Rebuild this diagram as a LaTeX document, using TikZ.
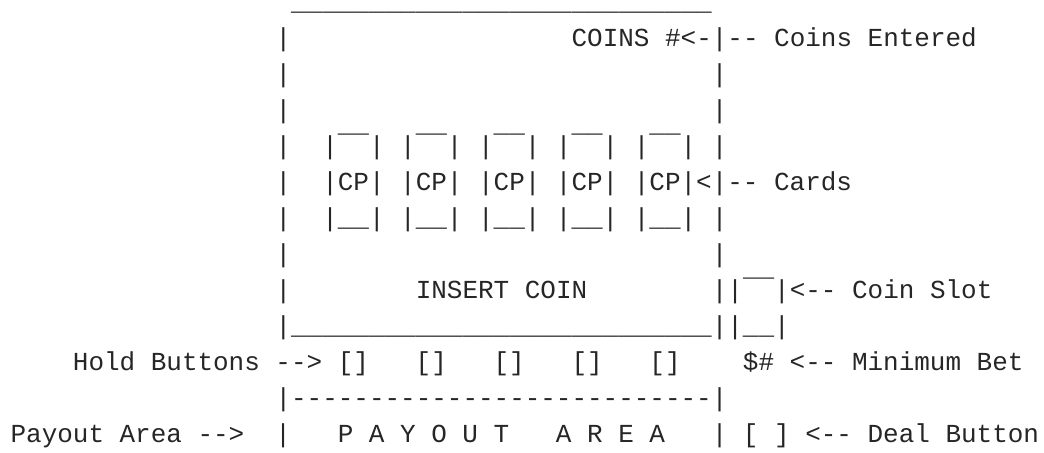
\documentclass[tikz,border=0pt]{standalone}
\usepackage{fontspec}
\setmonofont{Liberation Mono}
\frenchspacing

% one blank column of the grid, and a run of equal characters
\newcommand{\gap}[1]{\hspace*{#1\fontdimen2\font}}
\newcommand{\rep}[2]{\foreach \rpi in {1,...,#1}{#2}}

\tikzset{%
  % Specifications for style of nodes:
         asc/.style = { anchor=base west, inner sep=0pt, outer sep=0pt, text=black!85,
                        font=\ttfamily\fontsize{25.97pt}{36pt}\selectfont },
}

\begin{document}
\begin{tikzpicture}[x=15.58pt, y=-35.95pt]
    \useasboundingbox (-0.68,-0.30) rectangle (66.33,12.30);

    % Draw nodes
    \node (top)      [asc] at (0,0)  {\gap{18}\rep{27}{\_}};
    \node (coins)    [asc] at (0,1)  {\gap{17}|\gap{18}COINS \#<-|-- Coins Entered};
    \node (blank_1)  [asc] at (0,2)  {\gap{17}|\gap{27}|};
    \node (blank_2)  [asc] at (0,3)  {\gap{17}|\gap{27}|};
    \node (card_top) [asc] at (0,4)  {\gap{17}|\gap{2}|¯¯| |¯¯| |¯¯| |¯¯| |¯¯| |};
    \node (cards)    [asc] at (0,5)  {\gap{17}|\gap{2}|CP| |CP| |CP| |CP| |CP|<|-- Cards};
    \node (card_bot) [asc] at (0,6)  {\gap{17}|\gap{2}|\_\_| |\_\_| |\_\_| |\_\_| |\_\_| |};
    \node (blank_3)  [asc] at (0,7)  {\gap{17}|\gap{27}|};
    \node (insert)   [asc] at (0,8)  {\gap{17}|\gap{8}INSERT COIN\gap{8}||¯¯|<-- Coin Slot};
    \node (bottom)   [asc] at (0,9)  {\gap{17}|\rep{27}{\_}||\_\_|};
    \node (hold)     [asc] at (0,10) {\gap{4}Hold Buttons --> []\gap{3}[]\gap{3}[]\gap{3}[]\gap{3}[]\gap{4}\$\# <-- Minimum Bet};
    \node (divider)  [asc] at (0,11) {\gap{17}|\rep{27}{-}|};
    \node (payout)   [asc] at (0,12) {Payout Area -->\gap{2}|\gap{3}P A Y O U T\gap{3}A R E A\gap{3}| [ ] <-- Deal Button};
\end{tikzpicture}
\end{document}
